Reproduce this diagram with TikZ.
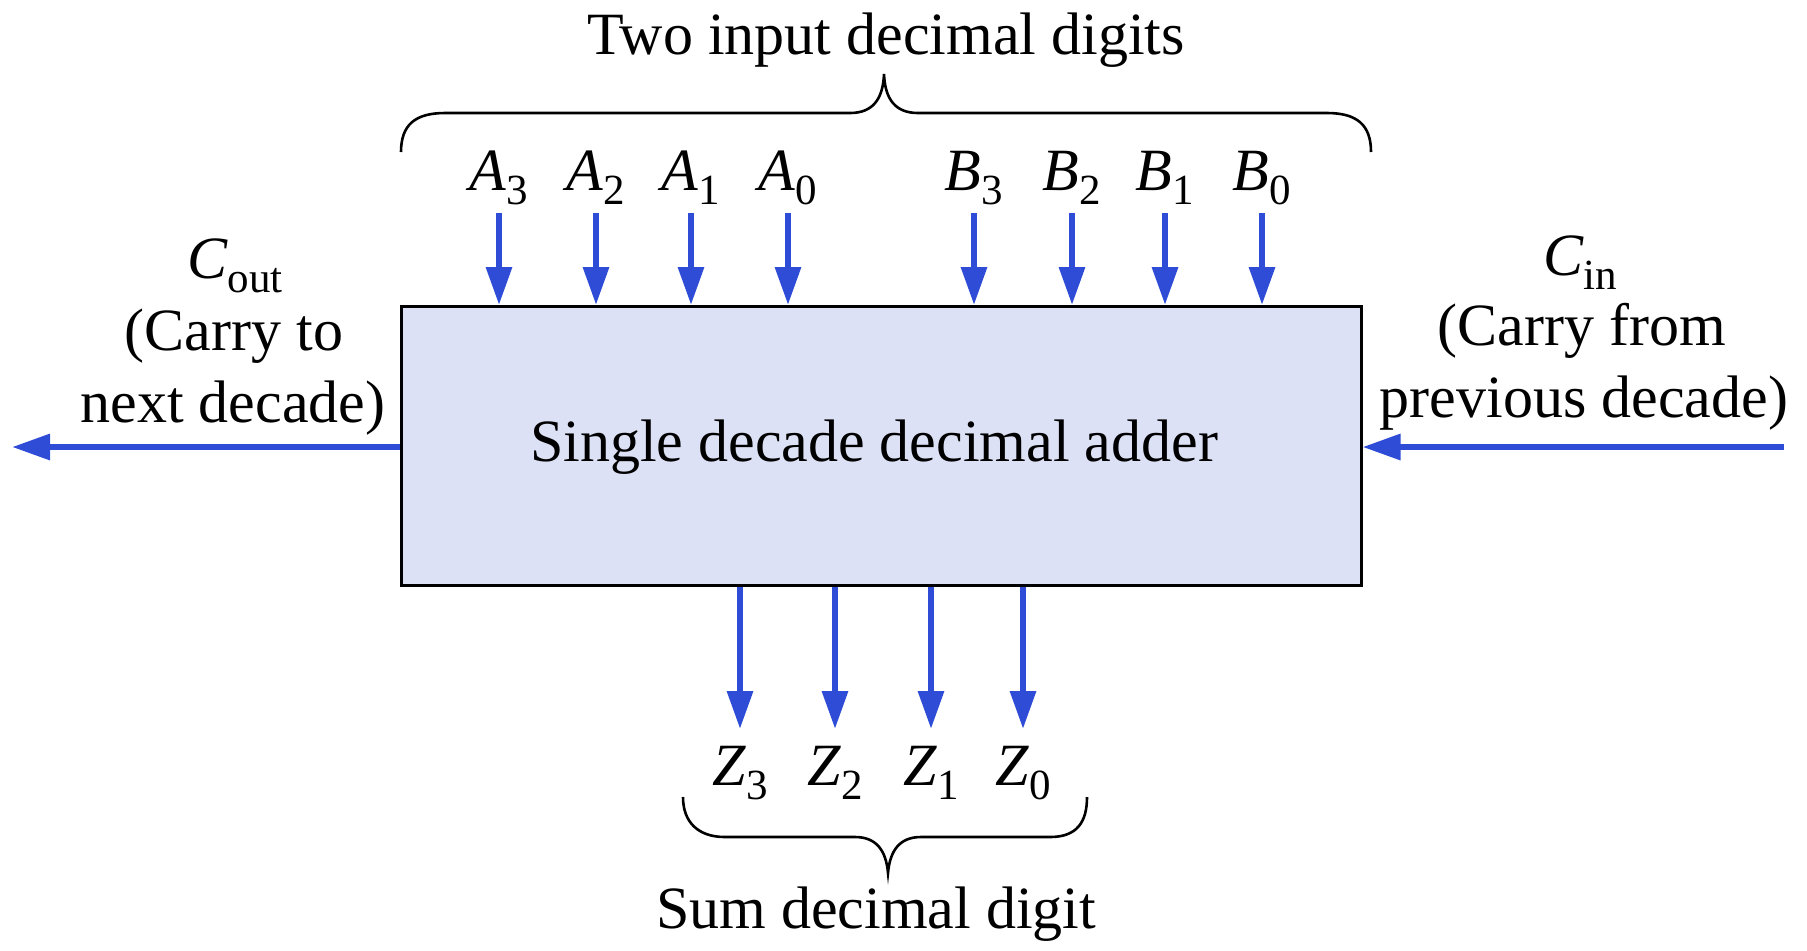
\documentclass[tikz,border=0pt]{standalone}
\usepackage{fontspec}
\setmainfont{Liberation Serif}
\usetikzlibrary{arrows.meta}
\definecolor{wireblue}{RGB}{46,76,214}
\definecolor{boxfill}{RGB}{221,225,246}
\newcommand\sigsub[2]{\textit{#1}\raisebox{-7pt}{\fontsize{21.5pt}{21.5pt}\selectfont #2}}
\begin{document}
\begin{tikzpicture}[x=0.5pt,y=-0.5pt,
  every node/.style={font=\fontsize{30pt}{36pt}\selectfont, inner sep=0pt},
  wire/.style={draw=wireblue, line width=3.1pt, -{Triangle[length=19pt,width=12.5pt]}},
  bracepath/.style={line width=1.3pt, draw=black},
  lbl/.style={anchor=base},
  adder/.style={draw=black, line width=1.5pt, fill=boxfill, minimum width=480pt, minimum height=139.25pt}]
\useasboundingbox (0,0) rectangle (1807,950);

\node[adder] (box) at (881,445.75) {};
\node[lbl] (boxtext) at (874,461) {Single decade decimal adder};

% title and top brace
\node[lbl] (title) at (886,54) {Two input decimal digits};
\draw[bracepath] (401,152) .. controls (401,125) and (415,113) .. (445,113) -- (850,113)
  .. controls (872,113) and (883,100) .. (884,74)
  .. controls (885,100) and (896,113) .. (918,113) -- (1327,113)
  .. controls (1357,113) and (1371,125) .. (1371,152);

% input arrows
\foreach \nm/\x/\L/\s in {a3/499/A/3, a2/596/A/2, a1/691/A/1, a0/788/A/0,
                          b3/974/B/3, b2/1072/B/2, b1/1165/B/1, b0/1262/B/0} {
  \node[lbl] (l\nm) at (\x,190) {\sigsub{\L}{\s}};
  \coordinate (s\nm) at (\x,213);
  \draw[wire] (s\nm) -- (s\nm |- box.north);
}

% output arrows
\foreach \nm/\x/\s in {z3/740/3, z2/835/2, z1/931/1, z0/1023/0} {
  \node[lbl] (l\nm) at (\x,785) {\sigsub{Z}{\s}};
  \coordinate (e\nm) at (\x,729);
  \draw[wire] (box.south -| e\nm) -- (e\nm);
}

% bottom brace and label
\draw[bracepath] (683,797) .. controls (683,822) and (698,837) .. (725,837) -- (855,837)
  .. controls (876,837) and (886,850) .. (888,873)
  .. controls (890,850) and (900,837) .. (921,837) -- (1050,837)
  .. controls (1077,837) and (1087,822) .. (1087,797);
\node[lbl] (sum) at (876,928) {Sum decimal digit};

% carry out
\coordinate (cout) at (12,447);
\draw[wire] (box.west |- cout) -- (cout);
\node[lbl] (coutA) at (235,278) {\sigsub{C}{out}};
\node[lbl] (coutB) at (234,350) {(Carry to};
\node[lbl] (coutC) at (233,422) {next decade)};

% carry in
\coordinate (cin) at (1784,447);
\draw[wire] (cin) -- (box.east |- cin);
\node[lbl] (cinA) at (1580,275) {\sigsub{C}{in}};
\node[lbl] (cinB) at (1582,345) {(Carry from};
\node[lbl] (cinC) at (1584,417) {previous decade)};
\end{tikzpicture}
\end{document}
